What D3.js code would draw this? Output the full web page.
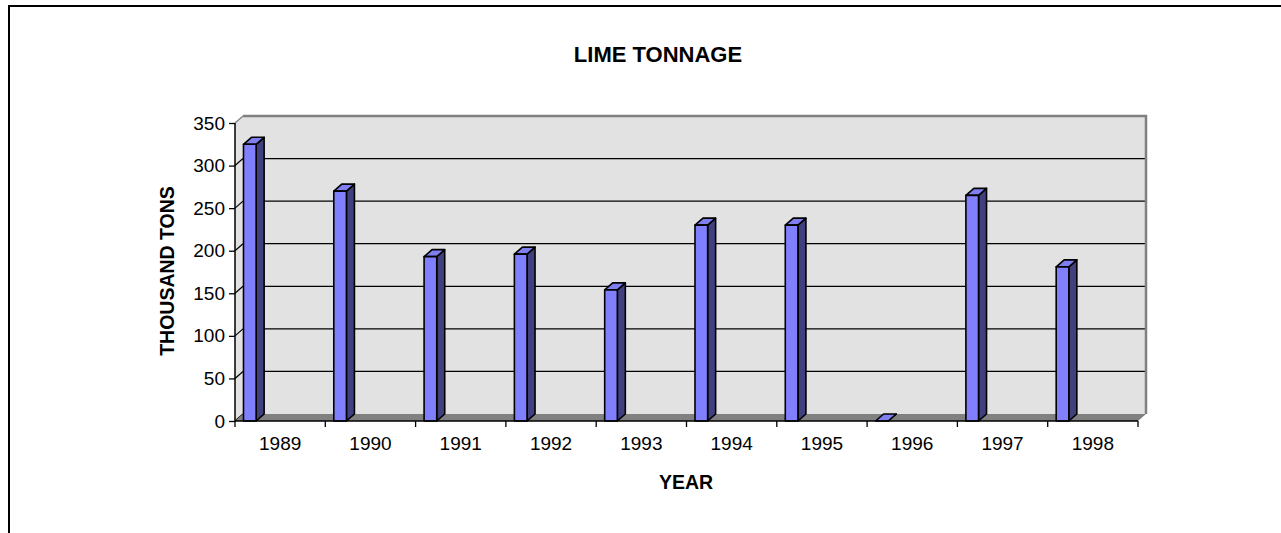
<!DOCTYPE html>
<html lang="en">
  <head>
    <meta charset="utf-8">
    <title>Lime tonnage</title>
    <script src="https://cdn.jsdelivr.net/npm/d3@7"></script>
    <style>
      body { margin: 0; background: #fff; }
      svg text { font-family: "Liberation Sans", Arial, sans-serif; fill: #000; }
      .tick-label { font-size: 19px; }
      .title { font-size: 22px; font-weight: bold; }
      .axis-title { font-size: 19.5px; font-weight: bold; }
    </style>
  </head>
  <body>
    <script>
      var years = ["1989", "1990", "1991", "1992", "1993", "1994", "1995", "1996", "1997", "1998"];
      var tonnage = [325, 270, 193, 196, 154, 230, 230, 0, 265, 181];
      var yTicks = [0, 50, 100, 150, 200, 250, 300, 350];

      var w = 1281, h = 533;
      var plotLeft = 235, plotRight = 1138, plotBottom = 421, plotTop = 123;
      var dx = 8, dy = -7;   // depth of the 3d box

      var svg = d3.select("body").append("svg")
                  .attr("width", w)
                  .attr("height", h);

      // outer frame (right and bottom edges fall outside the picture)
      svg.append("rect")
         .attr("x", 9).attr("y", 6)
         .attr("width", 1300).attr("height", 600)
         .attr("fill", "none").attr("stroke", "#000").attr("stroke-width", 2);

      var xScale = d3.scaleBand().domain(years).range([plotLeft, plotRight]);
      var yScale = d3.scaleLinear().domain([0, 350]).range([plotBottom, plotTop]);

      // back wall
      svg.append("rect")
         .attr("x", plotLeft + dx).attr("y", plotTop + dy)
         .attr("width", plotRight - plotLeft).attr("height", plotBottom - plotTop)
         .attr("fill", "#e2e2e2");
      // side wall
      svg.append("polygon")
         .attr("points", [[plotLeft, plotBottom], [plotLeft, plotTop], [plotLeft + dx, plotTop + dy], [plotLeft + dx, plotBottom + dy]].join(" "))
         .attr("fill", "#e2e2e2");

      // gridlines on back wall and side wall
      svg.selectAll(".grid")
         .data(yTicks.filter(function (d) { return d > 0 && d < 350; }))
         .enter().append("line")
         .attr("x1", plotLeft + dx).attr("x2", plotRight + dx)
         .attr("y1", function (d) { return yScale(d) + dy; })
         .attr("y2", function (d) { return yScale(d) + dy; })
         .attr("stroke", "#000").attr("stroke-width", 1.2);
      svg.selectAll(".sidegrid")
         .data(yTicks)
         .enter().append("line")
         .attr("x1", plotLeft).attr("x2", plotLeft + dx)
         .attr("y1", function (d) { return yScale(d); })
         .attr("y2", function (d) { return yScale(d) + dy; })
         .attr("stroke", function (d) { return d == 350 ? "#808080" : "#000"; })
         .attr("stroke-width", 1.2);

      // wall border
      svg.append("polyline")
         .attr("points", [[plotLeft + dx, plotTop + dy], [plotRight + dx, plotTop + dy], [plotRight + dx, plotBottom + dy]].join(" "))
         .attr("fill", "none").attr("stroke", "#808080").attr("stroke-width", 2.5);

      // floor
      svg.append("polygon")
         .attr("points", [[plotLeft, plotBottom], [plotLeft + dx, plotBottom + dy], [plotRight + dx, plotBottom + dy], [plotRight, plotBottom]].join(" "))
         .attr("fill", "#808080");

      // bars
      var bw = xScale.bandwidth();
      var off = bw * 0.094, bwid = bw * 0.14;
      var bars = svg.append("g").selectAll("g")
                    .data(years.map(function (y, i) { return { year: y, v: tonnage[i] }; }))
                    .enter().append("g")
                    .attr("stroke", "#000").attr("stroke-width", 1.6)
                    .attr("stroke-linejoin", "round");
      bars.append("polygon")  // side
          .attr("points", function (d) {
            var x1 = xScale(d.year) + off + bwid, yt = yScale(d.v);
            return [[x1, plotBottom], [x1, yt], [x1 + dx, yt + dy], [x1 + dx, plotBottom + dy]].join(" ");
          })
          .attr("fill", "#40407f");
      bars.append("polygon")  // top
          .attr("points", function (d) {
            var x0 = xScale(d.year) + off, yt = yScale(d.v);
            return [[x0, yt], [x0 + bwid, yt], [x0 + bwid + dx, yt + dy], [x0 + dx, yt + dy]].join(" ");
          })
          .attr("fill", "#7f7fef");
      bars.filter(function (d) { return d.v > 0; })
          .append("rect")   // front
          .attr("x", function (d) { return xScale(d.year) + off; })
          .attr("y", function (d) { return yScale(d.v); })
          .attr("width", bwid)
          .attr("height", function (d) { return plotBottom - yScale(d.v); })
          .attr("fill", "#8080ff");

      // axes
      var xAxis = d3.axisBottom(xScale).tickSize(0).tickPadding(16);
      var gx = svg.append("g")
                  .attr("transform", "translate(0," + plotBottom + ")")
                  .call(xAxis);
      gx.select(".domain").attr("stroke", "#000").attr("stroke-width", 1.5).attr("d", "M" + plotLeft + ",0H" + plotRight);
      gx.selectAll("text").attr("class", "tick-label").attr("font-family", null).attr("font-size", null);
      gx.selectAll(".bound")
        .data(years.concat(["end"]))
        .enter().append("line")
        .attr("x1", function (d, i) { return plotLeft + i * bw; })
        .attr("x2", function (d, i) { return plotLeft + i * bw; })
        .attr("y1", 0).attr("y2", 6)
        .attr("stroke", "#000").attr("stroke-width", 1.3);

      var yAxis = d3.axisLeft(yScale).tickValues(yTicks).tickSize(6).tickPadding(4);
      var gy = svg.append("g")
                  .attr("transform", "translate(" + plotLeft + ",0)")
                  .call(yAxis);
      gy.select(".domain").attr("d", "M0," + plotBottom + "V" + plotTop).attr("stroke", "#000").attr("stroke-width", 1.5);
      gy.selectAll("line").attr("stroke", "#000").attr("stroke-width", 1.3);
      gy.selectAll("text").attr("class", "tick-label").attr("font-family", null).attr("font-size", null);

      // titles
      svg.append("text").attr("class", "title")
         .attr("x", 658).attr("y", 62).attr("text-anchor", "middle")
         .text("LIME TONNAGE");
      svg.append("text").attr("class", "axis-title")
         .attr("x", 686).attr("y", 489).attr("text-anchor", "middle")
         .text("YEAR");
      svg.append("text").attr("class", "axis-title")
         .attr("transform", "translate(174,271) rotate(-90)")
         .attr("text-anchor", "middle")
         .text("THOUSAND TONS");
    </script>
  </body>
</html>
